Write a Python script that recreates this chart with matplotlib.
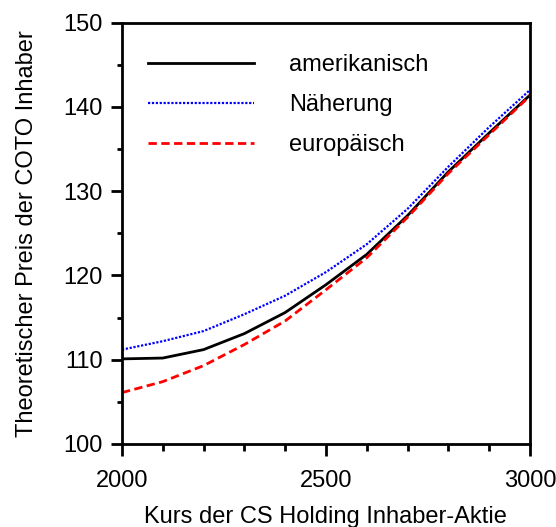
import matplotlib
matplotlib.use("Agg")
import matplotlib.pyplot as plt
from matplotlib.ticker import MultipleLocator

plt.rcParams['font.family'] = ['Liberation Sans', 'DejaVu Sans']

kurs = [2000, 2100, 2200, 2300, 2400, 2500, 2600, 2700, 2800, 2900, 3000]
amerikanisch = [110.1, 110.2, 111.2, 113.1, 115.6, 118.9, 122.5, 127.1, 132.3, 136.9, 141.4]
naeherung = [111.2, 112.2, 113.4, 115.4, 117.6, 120.4, 123.7, 127.9, 132.9, 137.6, 142.0]
europaeisch = [106.1, 107.4, 109.3, 111.8, 114.6, 118.3, 122.1, 126.9, 132.1, 136.7, 141.3]

labels = ["amerikanisch", "Näherung", "europäisch"]
xlabel = "Kurs der CS Holding Inhaber-Aktie"
ylabel = "Theoretischer Preis der COTO Inhaber"

FS = 17

fig = plt.figure(figsize=(5.56, 5.27), dpi=100)
ax = fig.add_axes([0.2194, 0.1575, 0.7336, 0.7995])

ax.plot(kurs, amerikanisch, color='black', lw=2, label=labels[0])
ax.plot(kurs, naeherung, color='blue', lw=1.6, linestyle=(0, (1, 0.75)), label=labels[1])
ax.plot(kurs, europaeisch, color='red', lw=2, linestyle=(0, (3, 1.6)), label=labels[2])

ax.set_xlim(2000, 3000)
ax.set_ylim(100, 150)
ax.xaxis.set_major_locator(MultipleLocator(500))
ax.xaxis.set_minor_locator(MultipleLocator(100))
ax.yaxis.set_major_locator(MultipleLocator(10))
ax.yaxis.set_minor_locator(MultipleLocator(5))
ax.tick_params(which='both', direction='out', width=2, labelsize=FS)
ax.tick_params(axis='x', which='major', length=8.5, pad=10)
ax.tick_params(axis='x', which='minor', length=5)
ax.tick_params(axis='y', which='major', length=8, pad=6)
ax.tick_params(axis='y', which='minor', length=3.8)
ax.tick_params(top=False, right=False, which='both')
for s in ax.spines.values():
    s.set_linewidth(2)

xl = ax.set_xlabel(xlabel, fontsize=FS, va='baseline')
ax.xaxis.set_label_coords(0.5, -0.188)
yl = ax.set_ylabel(ylabel, fontsize=FS, va='baseline')
ax.yaxis.set_label_coords(-0.218, 0.5)

ax.legend(loc='upper left', bbox_to_anchor=(0.0105, 0.975), frameon=False, fontsize=FS,
          handlelength=4.53, handletextpad=1.48, labelspacing=0.75)

fig.savefig("out.png", dpi=100)
